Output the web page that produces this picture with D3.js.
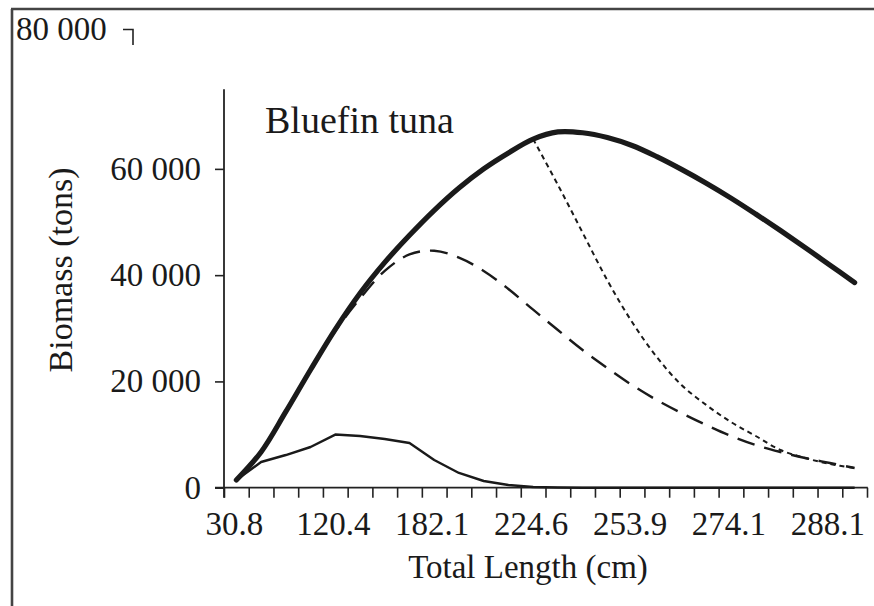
<!DOCTYPE html>
<html>
<head>
<meta charset="utf-8">
<script src="https://cdn.jsdelivr.net/npm/d3@7"></script>
<style>
  html, body { margin: 0; padding: 0; background: #fff; }
  svg { display: block; }
  text { font-family: "Liberation Serif", "Times New Roman", serif; fill: #1a1a1a; }
</style>
</head>
<body>
<svg id="chart" width="874" height="606"></svg>
<script>
// ---- data ----
const lengthClass = [0,1,2,3,4,5,6,7,8,9,10,11,12,13,14,15,16,17,18,19,20,21,22,23,24,25];
const labelledClass = [0, 4, 8, 12, 16, 20, 24];
const tickLabels = ["30.8", "120.4", "182.1", "224.6", "253.9", "274.1", "288.1"];
const yTicks = [0, 20000, 40000, 60000];
const yTickLabels = ["0", "20 000", "40 000", "60 000"];

// unexploited (thick solid)
const totalBiomass = [1450, 6720, 14300, 22200, 29800, 36600, 42400, 47500, 52200, 56400, 60000, 63000, 65600,
                      66950, 66800, 65900, 64400, 62300, 59900, 57300, 54500, 51500, 48400, 45200, 41900, 38600];
// long dashed
const dashedBiomass = [1450, 6720, 14300, 22200, 29500, 35600, 40800, 43900, 44600, 43300, 40800, 37400, 33500,
                       29670, 25910, 22520, 19320, 16500, 14050, 11800, 9730, 8030, 6720, 5590, 4650, 3710];
// short dashed (starts at 224.6 cm)
const dottedBiomass = [null, null, null, null, null, null, null, null, null, null, null, null, 65600,
                       57000, 48000, 39040, 31180, 24590, 19320, 15560, 12360, 9730, 7090, 5590, 4460, 3710];
// thin solid
const thinBiomass = [1450, 4840, 6150, 7660, 10000, 9730, 9160, 8410, 5210, 2770, 1260, 500, 130,
                     30, 0, 0, 0, 0, 0, 0, 0, 0, 0, 0, 0, 0];

// ---- layout ----
const svg = d3.select("#chart");
const plotLeft = 224, plotRight = 867, plotBottom = 487.7;
const yAxisTopValue = 75000;

const x = d3.scaleBand().domain(lengthClass).range([plotLeft, plotRight]).paddingInner(0).paddingOuter(0);
const xEdges = d3.scaleLinear().domain([0, lengthClass.length]).range([plotLeft, plotRight]);
const y = d3.scaleLinear().domain([0, 80000]).range([plotBottom, 62.6]);
const cx = i => x(i) + x.bandwidth() / 2;

// frame
svg.append("line").attr("x1", 12).attr("y1", 9).attr("x2", 12).attr("y2", 606)
  .attr("stroke", "#444").attr("stroke-width", 2.6);
svg.append("line").attr("x1", 11).attr("y1", 9).attr("x2", 874).attr("y2", 9)
  .attr("stroke", "#444").attr("stroke-width", 2.6);

// stray top label
svg.append("text").attr("x", 16).attr("y", 40).attr("font-size", 33).text("80 000");
svg.append("path").attr("d", "M123,29.5H133V45").attr("fill", "none").attr("stroke", "#222").attr("stroke-width", 1.6);

// x axis (band edges as ticks)
const xAxis = d3.axisBottom(xEdges)
  .tickValues(d3.range(lengthClass.length + 1))
  .tickSize(10).tickSizeOuter(0).tickFormat("");
const gx = svg.append("g").attr("transform", `translate(0,${plotBottom})`).call(xAxis);
gx.select(".domain").remove();
gx.selectAll(".tick line").attr("stroke", "#222").attr("stroke-width", 1.6);
svg.append("line").attr("x1", plotLeft - 9).attr("x2", plotRight + 0.8)
  .attr("y1", plotBottom).attr("y2", plotBottom).attr("stroke", "#222").attr("stroke-width", 1.8);

svg.append("g").selectAll("text").data(labelledClass).join("text")
  .attr("x", (d) => cx(d) - 2).attr("y", 535)
  .attr("text-anchor", "middle").attr("font-size", 33)
  .text((d, i) => tickLabels[i]);

// y axis
const yAxis = d3.axisLeft(y).tickValues(yTicks).tickSize(9).tickFormat("");
const gy = svg.append("g").attr("transform", `translate(${plotLeft},0)`).call(yAxis);
gy.select(".domain").remove();
gy.selectAll(".tick line").attr("stroke", "#222").attr("stroke-width", 1.6);
svg.append("line").attr("x1", plotLeft).attr("x2", plotLeft)
  .attr("y1", y(yAxisTopValue)).attr("y2", plotBottom + 10).attr("stroke", "#222").attr("stroke-width", 1.8);
svg.append("g").selectAll("text").data(yTicks).join("text")
  .attr("x", 201).attr("y", d => y(d)).attr("dy", "0.33em")
  .attr("text-anchor", "end").attr("font-size", 33)
  .text((d, i) => yTickLabels[i]);

// axis titles
svg.append("text").attr("x", 528).attr("y", 578).attr("text-anchor", "middle").attr("font-size", 33)
  .text("Total Length (cm)");
svg.append("text").attr("transform", "translate(72,270) rotate(-90)").attr("text-anchor", "middle")
  .attr("font-size", 34).text("Biomass (tons)");
svg.append("text").attr("x", 265).attr("y", 133).attr("font-size", 38).text("Bluefin tuna");

// lines
const line = d3.line().defined(d => d[1] != null).x(d => cx(d[0])).y(d => y(d[1])).curve(d3.curveCatmullRom.alpha(0.5));
const thinLine = d3.line().x(d => cx(d[0])).y(d => y(d[1])).curve(d3.curveLinear);
const pairs = arr => lengthClass.map((c, i) => [c, arr[i]]);

svg.append("path").attr("d", thinLine(pairs(thinBiomass)))
  .attr("fill", "none").attr("stroke", "#1a1a1a").attr("stroke-width", 2.4).attr("stroke-linejoin", "round");
svg.append("path").attr("d", line(pairs(dashedBiomass)))
  .attr("fill", "none").attr("stroke", "#1a1a1a").attr("stroke-width", 2.4).attr("stroke-dasharray", "18,10");
svg.append("path").attr("d", line(pairs(dottedBiomass)))
  .attr("fill", "none").attr("stroke", "#1a1a1a").attr("stroke-width", 2).attr("stroke-dasharray", "5,4");
svg.append("path").attr("d", line(pairs(totalBiomass)))
  .attr("fill", "none").attr("stroke", "#1a1a1a").attr("stroke-width", 5.2).attr("stroke-linecap", "round")
  .attr("stroke-linejoin", "round");
</script>
</body>
</html>
